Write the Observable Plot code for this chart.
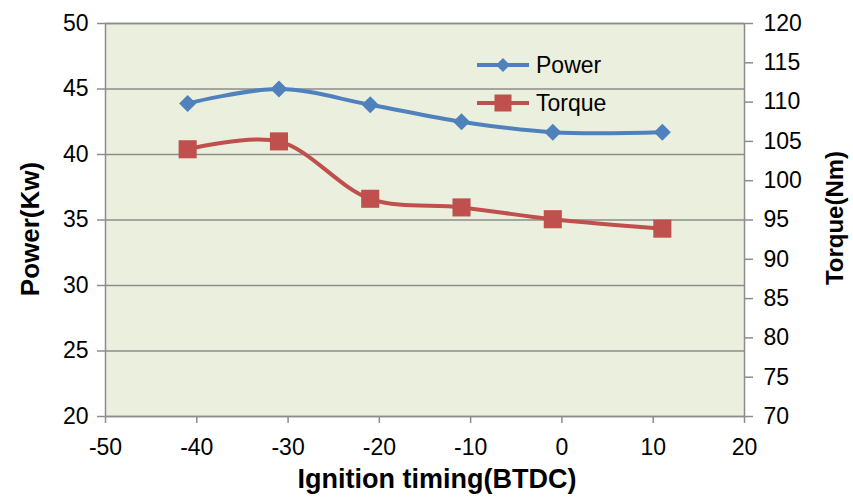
<!DOCTYPE html>
<html><head><meta charset="utf-8">
<script src="https://cdn.jsdelivr.net/npm/d3@7"></script>
<script src="https://cdn.jsdelivr.net/npm/@observablehq/plot@0.6"></script>
<style>body{margin:0;background:#fff;font-family:"Liberation Sans",Arial,sans-serif}</style>
</head><body><div id="chart"></div>
<script>
const timing = [-41, -31, -21, -11, -1, 11];
const power = [43.9, 45.0, 43.8, 42.5, 41.7, 41.7];
const torque = [104.0, 105.0, 97.7, 96.6, 95.1, 93.9];
const xTicks = [-50, -40, -30, -20, -10, 0, 10, 20];
const powerTicks = [20, 25, 30, 35, 40, 45, 50];
const torqueTicks = [70, 75, 80, 85, 90, 95, 100, 105, 110, 115, 120];

const toP = t => 20 + (t - 70) * 30 / 50;
const fromP = p => 70 + (p - 20) * 50 / 30;
const blue = "#4f81bd", red = "#c0504d";

const pData = timing.map((x, i) => ({x, y: power[i]}));
const tData = timing.map((x, i) => ({x, y: toP(torque[i])}));

const chart = Plot.plot({
  width: 853, height: 497,
  marginLeft: 105, marginRight: 109, marginTop: 23, marginBottom: 81,
  style: {fontFamily: "Liberation Sans, Arial, sans-serif", fontSize: "23px", color: "#000", background: "#fff"},
  x: {domain: [-50, 20]},
  y: {domain: [20, 50]},
  marks: [
    Plot.frame({fill: "#ebefdd"}),
    Plot.ruleY(powerTicks, {stroke: "#8c8c8c", strokeWidth: 1.5}),
    Plot.frame({stroke: "#8c8c8c", strokeWidth: 1.5}),
    Plot.axisX({ticks: xTicks, tickSize: 7, tickPadding: 15, stroke: "#8c8c8c", strokeWidth: 1.5, label: null, fontSize: 23, tickFormat: d => d < 0 ? "-" + Math.abs(d) : String(d)}),
    Plot.axisY({ticks: powerTicks, tickSize: 8, tickPadding: 9, stroke: "#8c8c8c", strokeWidth: 1.5, label: null, fontSize: 23}),
    Plot.axisY({anchor: "right", ticks: torqueTicks.map(toP), tickSize: 8, tickPadding: 11, stroke: "#8c8c8c", strokeWidth: 1.5, label: null, fontSize: 23, tickFormat: p => String(Math.round(fromP(p)))}),
    Plot.line(pData, {x: "x", y: "y", stroke: blue, strokeWidth: 4, curve: "catmull-rom"}),
    Plot.line(tData, {x: "x", y: "y", stroke: red, strokeWidth: 4, curve: "catmull-rom"}),
    Plot.dot(pData, {x: "x", y: "y", symbol: "square", rotate: 45, r: 6.8, fill: blue, stroke: "none"}),
    Plot.dot(tData, {x: "x", y: "y", symbol: "square", r: 10.2, fill: red, stroke: "none"})
  ]
});

const svg = d3.select(chart);
const font = "Liberation Sans, Arial, sans-serif";
// axis titles
svg.append("text").attr("x", 437).attr("y", 488).attr("text-anchor", "middle")
  .attr("font-family", font).attr("font-size", 27).attr("font-weight", "bold").text("Ignition timing(BTDC)");
svg.append("text").attr("transform", "translate(39,229) rotate(-90)").attr("text-anchor", "middle")
  .attr("font-family", font).attr("font-size", 26).attr("font-weight", "bold").text("Power(Kw)");
svg.append("text").attr("transform", "translate(843,218) rotate(-90)").attr("text-anchor", "middle")
  .attr("font-family", font).attr("font-size", 24).attr("font-weight", "bold").text("Torque(Nm)");
// legend
const leg = [{name: "Power", color: blue, y: 65, sym: "diamond"}, {name: "Torque", color: red, y: 103, sym: "square"}];
leg.forEach(l => {
  svg.append("line").attr("x1", 477).attr("x2", 529).attr("y1", l.y).attr("y2", l.y)
    .attr("stroke", l.color).attr("stroke-width", 4);
  if (l.sym === "diamond") {
    svg.append("rect").attr("x", -5).attr("y", -5).attr("width", 10).attr("height", 10)
      .attr("fill", l.color).attr("transform", `translate(503,${l.y}) rotate(45)`);
  } else {
    svg.append("rect").attr("x", 503 - 8.5).attr("y", l.y - 8.5).attr("width", 17).attr("height", 17).attr("fill", l.color);
  }
  svg.append("text").attr("x", 536).attr("y", l.y).attr("dy", "0.35em").attr("text-anchor", "start")
    .attr("font-family", font).attr("font-size", 23).text(l.name);
});
document.getElementById("chart").appendChild(chart);
</script></body></html>
